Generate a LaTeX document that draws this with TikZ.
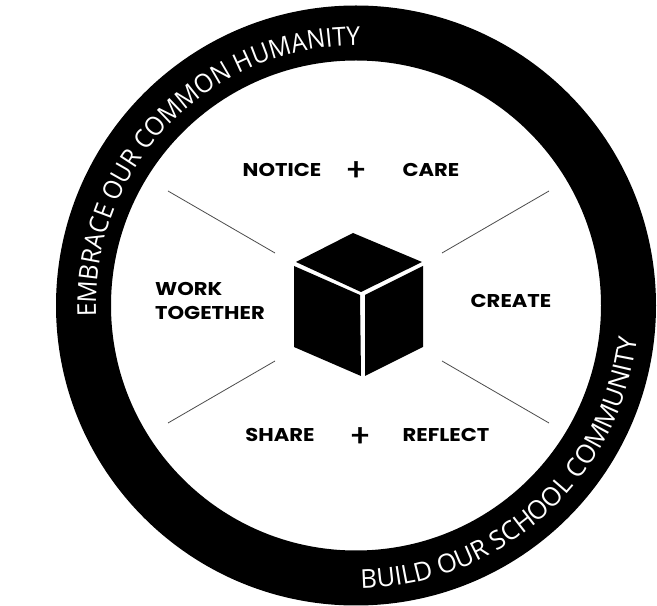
\documentclass[tikz,border=0pt]{standalone}
\usepackage{fontspec}
\setmainfont{Poppins}
\newfontfamily\arcfama[FakeStretch=0.94]{Open Sans}
\newfontfamily\arcfamb[FakeStretch=0.985]{Open Sans}
\newfontfamily\lblfam[FakeStretch=1.14]{Poppins}
\newfontfamily\plusfam[FakeBold=1.2]{Poppins}
\usetikzlibrary{decorations.text,calc}
\newcommand{\arcstylea}{\arcfama\fontsize{26}{26}\selectfont\color{white}}
\newcommand{\arcstyleb}{\arcfamb\fontsize{26}{26}\selectfont\color{white}}
\tikzset{
  x=1pt,y=1pt,
  lbl/.style={font=\lblfam\fontsize{18.5}{24}\selectfont\bfseries,text=black,inner sep=0pt},
  plus/.style={font=\plusfam\fontsize{31}{31}\selectfont,text=black,inner sep=0pt},
  spoke/.style={draw=black!70,line width=0.8pt},
  face/.style={fill=black,draw=none}
}
\begin{document}
\begin{tikzpicture}
\useasboundingbox (0,0) rectangle (657,606);
\fill[white] (0,0) rectangle (657,606);
\coordinate (c) at (356,300.5);
\fill[black,even odd rule] (c) circle[radius=300] (c) circle[radius=245];
\path[decorate,decoration={text along path,text align={left},
  text={|\arcstylea|EMBRACE OUR COMMON HUMANITY}}]
  ($(c)+(182.5:260)$) arc[start angle=182.5,end angle=60,radius=260];
\path[decorate,decoration={text along path,text align={left},
  text={|\arcstyleb|BUILD OUR SCHOOL COMMUNITY}}]
  ($(c)+(-89:283)$) arc[start angle=-89,end angle=30,radius=283];
% cube
\fill[face] (353,373) -- (422,344) -- (361,314) -- (296,344) -- cycle;
\fill[face] (294,340) -- (360,311) -- (361,230) -- (294,259) -- cycle;
\fill[face] (365,311) -- (423,340) -- (423,259) -- (365,230) -- cycle;
% spokes
\coordinate (a1) at (168,415); \coordinate (a2) at (275,353);
\coordinate (b1) at (549,415); \coordinate (b2) at (442,353);
\coordinate (d1) at (168,183); \coordinate (d2) at (275,245);
\coordinate (e1) at (549,183); \coordinate (e2) at (442,245);
\draw[spoke] (a1) -- (a2);
\draw[spoke] (b1) -- (b2);
\draw[spoke] (d1) -- (d2);
\draw[spoke] (e1) -- (e2);
% labels
\node[lbl] (notice) at (282,436) {NOTICE};
\node[plus] (plus1) at (356,435) {+};
\node[lbl] (care) at (431,436) {CARE};
\node[lbl,align=left,anchor=west] (work) at (155,305) {WORK\\TOGETHER};
\node[lbl] (create) at (511,305) {CREATE};
\node[lbl] (share) at (280,171) {SHARE};
\node[plus] (plus2) at (360,169) {+};
\node[lbl] (reflect) at (446,171) {REFLECT};
\end{tikzpicture}
\end{document}
